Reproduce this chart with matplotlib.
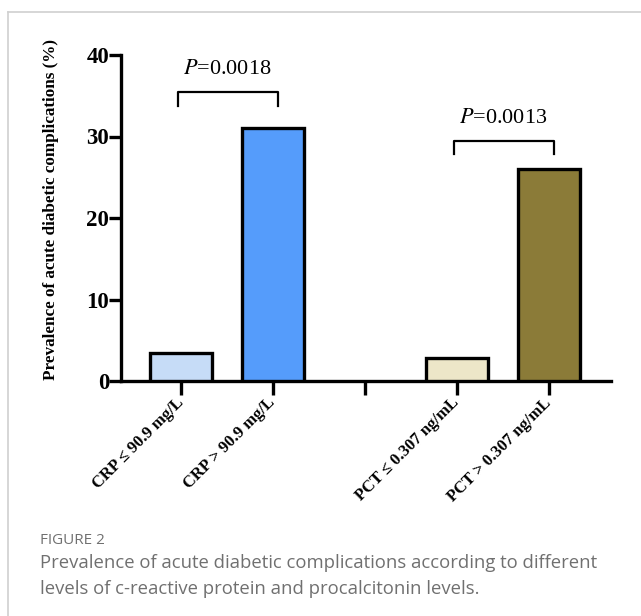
import matplotlib.pyplot as plt
import matplotlib.lines as mlines
import numpy as np

plt.rcParams["mathtext.fontset"] = "stix"

# data
categories = ["CRP ≤ 90.9 mg/L", "CRP > 90.9 mg/L", "", "PCT ≤ 0.307 ng/mL", "PCT > 0.307 ng/mL"]
values = [3.4, 31.1, np.nan, 2.8, 26.0]
colors = ["#C6DCF7", "#559CFB", "#FFFFFF", "#EDE6C8", "#8B7B38"]
comparisons = [(0, 1, "0.0018", 35.5), (3, 4, "0.0013", 29.5)]

serif = ["Liberation Serif", "DejaVu Serif"]

fig = plt.figure(figsize=(6.41, 6.16), dpi=100)
ax = fig.add_axes([121 / 641, 1 - 381 / 616, 490 / 641, 326 / 616])

x = np.arange(len(categories))
for i, v in enumerate(values):
    if np.isnan(v):
        continue
    ax.bar(x[i], v, width=0.68, color=colors[i], edgecolor="black", linewidth=2.4, zorder=3)

ax.set_ylim(0, 40)
ax.set_xlim(-0.652, 4.674)
ax.set_yticks([0, 10, 20, 30, 40])
ax.set_xticks(x)
ax.set_xticklabels(categories, rotation=45, ha="right", va="center", rotation_mode="anchor",
                   fontsize=12, fontweight="bold", family=serif)
for lab in ax.get_yticklabels():
    lab.set_fontsize(16.5)
    lab.set_fontweight("bold")
    lab.set_family(serif)

for s in ["top", "right"]:
    ax.spines[s].set_visible(False)
for s in ["left", "bottom"]:
    ax.spines[s].set_linewidth(2.4)
ax.tick_params(axis="y", width=2.4, length=8.5, direction="out", pad=0)
ax.tick_params(axis="x", width=2.4, length=10, direction="out", pad=4)

ax.set_ylabel("Prevalence of acute diabetic complications (%)", fontsize=12.3,
              fontweight="bold", family=serif)
ax.yaxis.set_label_coords(-0.1265, 0.525)

# significance brackets
for a, b, p, h in comparisons:
    ax.plot([a - 0.03, a - 0.03, b + 0.05, b + 0.05], [h - 1.7, h, h, h - 1.7],
            color="black", linewidth=1.6, clip_on=False)
    ax.text((a + b) / 2, h + 1.5, r"$\mathit{P}$" + "=" + p, ha="center", va="bottom",
            fontsize=16, family=serif)

# frame and caption
fig.add_artist(mlines.Line2D([8 / 641, 1], [1 - 12 / 616, 1 - 12 / 616], color="#D0D0D0", lw=1.2))
fig.add_artist(mlines.Line2D([8 / 641, 8 / 641], [0, 1 - 12 / 616], color="#D0D0D0", lw=1.2))
fig.text(40 / 641, 1 - 540 / 616, "FIGURE 2", fontsize=11, color="#707070",
         family=["Open Sans", "DejaVu Sans"], va="center")
fig.text(40 / 641, 1 - 576 / 616,
         "Prevalence of acute diabetic complications according to different\n"
         "levels of c-reactive protein and procalcitonin levels.",
         fontsize=13.3, color="#707070", family=["Open Sans", "DejaVu Sans"],
         va="center", linespacing=1.55)

fig.savefig("out.png", dpi=100)
